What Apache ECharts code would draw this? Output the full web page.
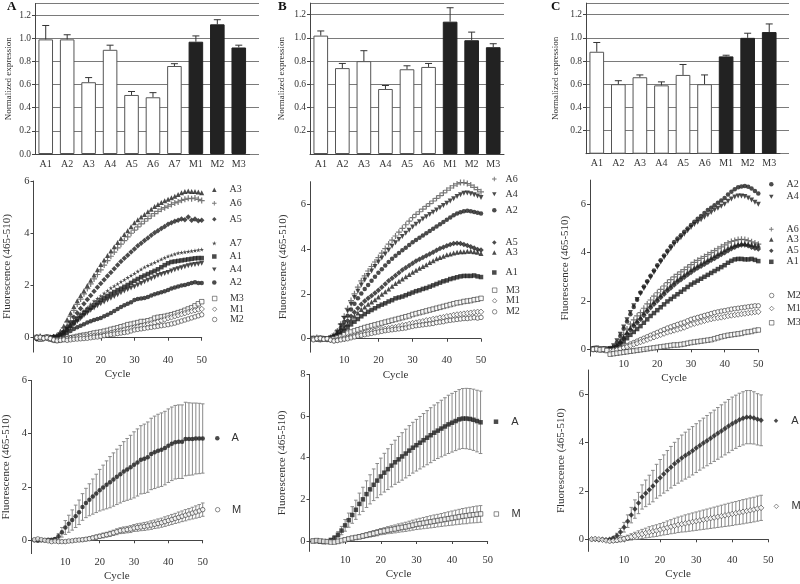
<!DOCTYPE html>
<html><head><meta charset="utf-8">
<script src="https://cdn.jsdelivr.net/npm/echarts@6/dist/echarts.min.js"></script>
<style>html,body{margin:0;padding:0;background:#fff}#c{width:800px;height:584px}</style>
</head><body><div id="c"></div>
<script>
// ---------- Top row: normalized expression bars ----------
const barCatsA = ['A1','A2','A3','A4','A5','A6','A7','M1','M2','M3'];
const barValsA = [0.99,0.99,0.62,0.90,0.51,0.49,0.76,0.97,1.12,0.92];
const barErrA  = [0.12,0.04,0.04,0.04,0.03,0.04,0.02,0.05,0.04,0.02];
const barCatsB = ['A1','A2','A3','A4','A5','A6','M1','M2','M3'];
const barValsB = [1.02,0.74,0.80,0.56,0.73,0.75,1.14,0.98,0.92];
const barErrB  = [0.04,0.04,0.09,0.03,0.03,0.03,0.12,0.07,0.03];
const barCatsC = ['A1','A2','A3','A4','A5','A6','M1','M2','M3'];
const barValsC = [0.88,0.60,0.66,0.59,0.68,0.60,0.84,1.00,1.05];
const barErrC  = [0.08,0.03,0.02,0.03,0.09,0.08,0.01,0.04,0.07];
const barTicksA = [0,0.2,0.4,0.6,0.8,1.0,1.2];
const barTicksBC = [0.2,0.4,0.6,0.8,1.0,1.2];

// ---------- cycles ----------
const cycles = [1,2,3,4,5,6,7,8,9,10,11,12,13,14,15,16,17,18,19,20,21,22,23,24,25,26,27,28,29,30,31,32,33,34,35,36,37,38,39,40,41,42,43,44,45,46,47,48,49,50];
const cyclesShort = [1,2,3,4,5,6,7,8,9,10,11,12,13,14,15,16,17,18,19,20,21,22,23,24,25,26,27,28,29,30,31,32,33,34,35,36,37,38,39,40,41,42,43,44,45,46,47,48];
const cycleTicks = [10,20,30,40,50];
const fluoTicks6 = [0,2,4,6];
const fluoTicks8 = [0,2,4,6,8];

// ---------- Middle row, panel A ----------
const midA_A3 = [0.05,-0.05,0.02,0.00,0.03,-0.02,0.10,0.25,0.45,0.70,0.95,1.20,1.42,1.62,1.80,2.00,2.20,2.40,2.60,2.80,2.98,3.15,3.32,3.48,3.65,3.80,3.95,4.10,4.25,4.40,4.52,4.62,4.72,4.82,4.92,5.02,5.10,5.18,5.24,5.30,5.36,5.42,5.48,5.55,5.60,5.62,5.60,5.60,5.58,5.55];
const midA_A6 = [0.00,0.05,-0.03,0.02,0.00,0.03,0.08,0.20,0.38,0.60,0.82,1.05,1.28,1.48,1.68,1.88,2.06,2.25,2.42,2.60,2.78,2.95,3.12,3.28,3.44,3.58,3.72,3.86,4.00,4.12,4.24,4.36,4.46,4.56,4.66,4.75,4.84,4.92,4.98,5.04,5.10,5.16,5.20,5.26,5.30,5.34,5.32,5.35,5.30,5.25];
const midA_A5 = [-0.05,0.03,0.00,0.02,-0.03,0.05,0.05,0.12,0.25,0.42,0.60,0.78,0.95,1.12,1.30,1.46,1.62,1.78,1.93,2.08,2.22,2.36,2.50,2.64,2.78,2.92,3.04,3.16,3.28,3.40,3.52,3.62,3.72,3.82,3.92,4.02,4.10,4.18,4.26,4.34,4.40,4.46,4.50,4.55,4.52,4.62,4.50,4.55,4.48,4.50];
const midA_A7 = [0.00,0.02,-0.02,0.03,0.00,0.02,0.04,0.12,0.24,0.38,0.52,0.66,0.80,0.92,1.04,1.16,1.28,1.40,1.50,1.60,1.70,1.80,1.90,1.98,2.06,2.14,2.22,2.30,2.38,2.46,2.54,2.62,2.70,2.76,2.82,2.88,2.94,3.00,3.06,3.12,3.16,3.20,3.24,3.26,3.28,3.30,3.32,3.34,3.36,3.38];
const midA_A1 = [0.00,-0.02,0.02,0.00,-0.03,0.02,0.03,0.10,0.20,0.32,0.45,0.58,0.70,0.82,0.94,1.05,1.15,1.25,1.35,1.45,1.53,1.60,1.68,1.75,1.82,1.88,1.95,2.02,2.10,2.18,2.25,2.32,2.38,2.44,2.50,2.56,2.62,2.70,2.78,2.85,2.90,2.92,2.94,2.96,2.98,3.00,3.02,3.04,3.05,3.05];
const midA_A4 = [0.02,0.00,-0.03,0.02,0.00,-0.02,0.02,0.08,0.16,0.26,0.38,0.50,0.62,0.74,0.85,0.95,1.05,1.14,1.22,1.30,1.37,1.44,1.51,1.58,1.65,1.72,1.79,1.85,1.90,1.95,2.02,2.08,2.14,2.20,2.26,2.32,2.38,2.42,2.46,2.50,2.55,2.60,2.64,2.68,2.72,2.76,2.78,2.80,2.82,2.85];
const midA_A2 = [-0.05,0.00,0.02,-0.02,0.00,0.02,0.00,0.04,0.10,0.18,0.26,0.33,0.40,0.46,0.52,0.58,0.63,0.68,0.72,0.76,0.82,0.88,0.95,1.02,1.10,1.18,1.24,1.30,1.36,1.44,1.48,1.50,1.52,1.56,1.62,1.66,1.70,1.74,1.78,1.83,1.88,1.92,1.96,2.00,2.02,2.06,2.10,2.12,2.10,2.10];
const midA_M3 = [0.00,-0.05,0.00,0.02,-0.05,-0.08,-0.10,-0.08,-0.05,-0.03,0.00,0.02,0.05,0.08,0.10,0.12,0.15,0.18,0.20,0.22,0.25,0.28,0.32,0.35,0.38,0.42,0.45,0.50,0.52,0.55,0.58,0.62,0.62,0.65,0.68,0.75,0.78,0.80,0.82,0.85,0.88,0.92,0.96,1.00,1.05,1.10,1.15,1.22,1.30,1.38];
const midA_M1 = [0.02,0.00,-0.03,0.00,-0.05,-0.10,-0.08,-0.06,-0.05,-0.04,-0.02,0.00,0.02,0.04,0.05,0.06,0.07,0.08,0.09,0.10,0.13,0.16,0.19,0.22,0.25,0.28,0.31,0.34,0.37,0.40,0.43,0.46,0.49,0.52,0.55,0.58,0.62,0.66,0.70,0.75,0.78,0.82,0.86,0.90,0.94,0.98,1.02,1.05,1.08,1.10];
const midA_M2 = [0.00,0.02,-0.02,0.00,-0.03,-0.08,-0.12,-0.10,-0.08,-0.10,-0.08,-0.06,-0.05,-0.04,-0.03,-0.02,0.00,0.02,0.03,0.05,0.08,0.10,0.12,0.14,0.16,0.18,0.20,0.22,0.26,0.30,0.32,0.34,0.36,0.38,0.40,0.42,0.44,0.46,0.48,0.50,0.53,0.56,0.60,0.64,0.68,0.72,0.76,0.80,0.84,0.88];

// ---------- Middle row, panel B ----------
const midB_A6 = [0.00,0.05,-0.03,0.00,-0.02,0.05,0.15,0.35,0.65,1.00,1.35,1.70,2.00,2.30,2.58,2.80,3.02,3.22,3.42,3.62,3.82,4.02,4.22,4.40,4.58,4.75,4.92,5.08,5.24,5.40,5.54,5.66,5.78,5.90,6.02,6.14,6.26,6.38,6.50,6.62,6.72,6.82,6.90,6.96,6.96,6.92,6.85,6.75,6.65,6.55];
const midB_A4 = [0.02,0.00,0.03,-0.02,0.00,0.04,0.12,0.30,0.58,0.90,1.22,1.54,1.84,2.12,2.40,2.62,2.82,3.02,3.22,3.42,3.60,3.78,3.96,4.12,4.28,4.42,4.56,4.70,4.84,4.98,5.10,5.22,5.34,5.44,5.54,5.64,5.74,5.84,5.94,6.04,6.14,6.24,6.34,6.42,6.48,6.50,6.46,6.42,6.36,6.30];
const midB_A2 = [0.00,0.03,-0.02,0.00,0.02,0.03,0.10,0.25,0.48,0.75,1.02,1.30,1.56,1.80,2.02,2.22,2.40,2.58,2.76,2.94,3.10,3.26,3.42,3.56,3.70,3.82,3.94,4.06,4.18,4.30,4.40,4.50,4.60,4.70,4.80,4.90,5.00,5.10,5.20,5.30,5.40,5.50,5.58,5.64,5.68,5.70,5.68,5.65,5.62,5.58];
const midB_A5 = [0.00,-0.02,0.02,0.00,-0.02,0.02,0.08,0.20,0.38,0.58,0.80,1.00,1.18,1.36,1.54,1.68,1.80,1.92,2.04,2.16,2.30,2.44,2.58,2.70,2.82,2.94,3.06,3.16,3.26,3.36,3.46,3.54,3.62,3.70,3.78,3.86,3.94,4.02,4.08,4.14,4.20,4.24,4.26,4.24,4.20,4.16,4.10,4.04,3.98,3.95];
const midB_A3 = [0.02,0.00,-0.02,0.02,0.00,0.00,0.06,0.16,0.30,0.48,0.66,0.84,1.00,1.15,1.30,1.42,1.54,1.64,1.74,1.86,1.98,2.10,2.22,2.34,2.46,2.56,2.66,2.76,2.86,2.96,3.05,3.14,3.22,3.30,3.40,3.48,3.56,3.62,3.68,3.74,3.78,3.82,3.85,3.88,3.88,3.90,3.90,3.88,3.85,3.80];
const midB_A1 = [0.00,0.02,-0.02,0.00,0.02,0.00,0.05,0.12,0.22,0.35,0.50,0.64,0.76,0.88,1.00,1.10,1.20,1.28,1.36,1.45,1.52,1.58,1.66,1.72,1.80,1.84,1.88,1.94,2.00,2.06,2.12,2.16,2.22,2.26,2.32,2.38,2.44,2.50,2.56,2.60,2.66,2.70,2.74,2.78,2.80,2.80,2.80,2.82,2.78,2.75];
const midB_M3 = [0.00,0.00,-0.03,0.00,-0.02,-0.02,0.00,0.05,0.10,0.18,0.25,0.30,0.35,0.40,0.45,0.50,0.54,0.58,0.62,0.66,0.70,0.74,0.78,0.82,0.86,0.90,0.94,0.98,1.02,1.08,1.12,1.16,1.20,1.24,1.28,1.32,1.36,1.40,1.44,1.48,1.52,1.56,1.60,1.62,1.66,1.68,1.70,1.74,1.76,1.80];
const midB_M1 = [0.00,0.02,0.00,-0.02,0.00,-0.05,-0.08,-0.05,-0.02,0.02,0.06,0.10,0.14,0.18,0.22,0.26,0.30,0.33,0.36,0.40,0.42,0.44,0.47,0.50,0.52,0.56,0.60,0.62,0.66,0.70,0.72,0.76,0.78,0.82,0.84,0.88,0.90,0.94,0.96,1.00,1.02,1.06,1.08,1.10,1.12,1.14,1.16,1.18,1.20,1.20];
const midB_M2 = [-0.05,0.00,0.02,-0.02,0.00,-0.06,-0.10,-0.08,-0.05,-0.02,0.00,0.04,0.08,0.12,0.15,0.18,0.21,0.24,0.27,0.30,0.33,0.36,0.38,0.40,0.42,0.44,0.46,0.48,0.52,0.55,0.58,0.60,0.62,0.64,0.66,0.68,0.72,0.74,0.76,0.80,0.82,0.84,0.86,0.88,0.90,0.90,0.92,0.94,0.92,0.95];

// ---------- Middle row, panel C ----------
const midC_A2 = [0.05,0.00,0.03,0.00,-0.02,0.00,0.10,0.28,0.55,0.85,1.15,1.45,1.75,2.05,2.35,2.60,2.82,3.04,3.26,3.48,3.68,3.88,4.08,4.26,4.44,4.58,4.72,4.86,5.00,5.14,5.28,5.40,5.52,5.64,5.76,5.86,5.96,6.06,6.16,6.26,6.40,6.52,6.62,6.70,6.74,6.76,6.72,6.65,6.55,6.45];
const midC_A4 = [0.00,0.05,-0.02,0.02,0.00,0.03,0.15,0.35,0.62,0.92,1.22,1.52,1.80,2.06,2.30,2.52,2.74,2.96,3.18,3.40,3.60,3.80,3.98,4.16,4.34,4.48,4.62,4.76,4.90,5.04,5.16,5.26,5.36,5.46,5.56,5.66,5.76,5.84,5.92,6.00,6.12,6.22,6.30,6.34,6.34,6.32,6.26,6.18,6.08,6.00];
const midC_A6 = [0.00,0.02,0.00,-0.02,0.00,0.02,0.08,0.22,0.40,0.62,0.84,1.04,1.22,1.38,1.52,1.70,1.88,2.04,2.20,2.34,2.48,2.62,2.76,2.88,3.00,3.10,3.20,3.30,3.40,3.50,3.60,3.68,3.76,3.84,3.92,4.00,4.08,4.16,4.24,4.32,4.40,4.46,4.50,4.54,4.55,4.54,4.50,4.45,4.40,4.35];
const midC_A3 = [0.03,0.00,0.02,-0.02,0.00,0.00,0.06,0.18,0.34,0.52,0.72,0.90,1.06,1.20,1.34,1.52,1.68,1.84,1.98,2.12,2.26,2.40,2.54,2.66,2.78,2.90,3.00,3.10,3.20,3.30,3.40,3.48,3.56,3.64,3.72,3.80,3.88,3.96,4.04,4.12,4.20,4.26,4.32,4.36,4.38,4.38,4.36,4.34,4.32,4.30];
const midC_A5 = [0.00,0.03,0.00,0.02,-0.02,0.02,0.05,0.14,0.28,0.45,0.62,0.80,0.96,1.10,1.24,1.40,1.56,1.72,1.86,2.00,2.14,2.28,2.42,2.54,2.66,2.78,2.88,2.98,3.08,3.18,3.28,3.36,3.44,3.52,3.60,3.68,3.76,3.84,3.92,4.00,4.08,4.16,4.22,4.28,4.32,4.32,4.28,4.22,4.18,4.15];
const midC_A1 = [0.02,0.00,-0.02,0.00,0.02,0.00,0.04,0.10,0.20,0.32,0.46,0.60,0.72,0.84,0.96,1.10,1.24,1.38,1.50,1.62,1.74,1.86,1.98,2.08,2.18,2.28,2.38,2.48,2.58,2.68,2.76,2.84,2.92,3.00,3.08,3.16,3.24,3.32,3.40,3.48,3.58,3.66,3.72,3.74,3.74,3.72,3.72,3.74,3.70,3.65];
const midC_M2 = [0.00,0.02,-0.02,0.00,-0.03,-0.05,-0.03,0.00,0.04,0.10,0.16,0.22,0.28,0.34,0.40,0.46,0.52,0.58,0.64,0.70,0.76,0.82,0.88,0.93,0.98,1.03,1.08,1.12,1.18,1.24,1.28,1.32,1.36,1.40,1.44,1.48,1.52,1.55,1.58,1.60,1.63,1.66,1.68,1.70,1.72,1.74,1.76,1.78,1.80,1.80];
const midC_M1 = [0.00,-0.02,0.02,0.00,-0.03,-0.06,-0.05,-0.02,0.02,0.06,0.10,0.15,0.20,0.25,0.30,0.35,0.40,0.45,0.50,0.55,0.60,0.65,0.70,0.74,0.78,0.82,0.86,0.90,0.96,1.02,1.06,1.10,1.14,1.18,1.22,1.25,1.28,1.30,1.32,1.35,1.38,1.40,1.42,1.44,1.46,1.48,1.50,1.52,1.54,1.55];
const midC_M3 = [0.00,0.02,-0.02,0.00,-0.05,-0.20,-0.18,-0.16,-0.14,-0.12,-0.10,-0.08,-0.06,-0.04,-0.02,0.00,0.02,0.04,0.06,0.08,0.10,0.12,0.14,0.16,0.18,0.18,0.20,0.22,0.25,0.28,0.30,0.32,0.34,0.36,0.38,0.40,0.44,0.48,0.52,0.55,0.58,0.60,0.62,0.64,0.66,0.70,0.72,0.74,0.78,0.80];

// ---------- Bottom row: group means with SD ----------
const botA_A    = [0.00,-0.02,0.00,0.00,0.02,0.02,0.05,0.15,0.30,0.48,0.62,0.76,0.90,1.05,1.25,1.40,1.52,1.64,1.76,1.88,1.98,2.08,2.18,2.28,2.38,2.48,2.58,2.66,2.74,2.83,2.92,3.02,3.06,3.12,3.24,3.30,3.36,3.40,3.46,3.55,3.62,3.68,3.70,3.70,3.80,3.80,3.80,3.82,3.82,3.82];
const botA_Aerr = [0.02,0.02,0.02,0.02,0.02,0.03,0.05,0.10,0.18,0.26,0.32,0.38,0.42,0.46,0.50,0.55,0.60,0.66,0.72,0.78,0.84,0.90,0.96,1.00,1.04,1.08,1.12,1.16,1.20,1.24,1.26,1.28,1.30,1.32,1.34,1.36,1.37,1.38,1.38,1.38,1.38,1.38,1.38,1.38,1.38,1.36,1.35,1.33,1.32,1.30];
const botA_M    = [0.02,0.05,0.02,0.00,-0.02,-0.05,-0.03,-0.05,-0.05,-0.05,-0.03,-0.02,0.00,0.01,0.02,0.04,0.06,0.09,0.12,0.15,0.18,0.21,0.24,0.28,0.32,0.36,0.38,0.40,0.42,0.46,0.48,0.50,0.52,0.54,0.57,0.60,0.63,0.66,0.70,0.74,0.78,0.82,0.86,0.90,0.94,0.98,1.02,1.06,1.10,1.15];
const botA_Merr = [0.01,0.01,0.01,0.01,0.02,0.02,0.02,0.03,0.03,0.03,0.04,0.04,0.05,0.05,0.06,0.06,0.07,0.07,0.08,0.08,0.09,0.09,0.10,0.10,0.11,0.11,0.12,0.12,0.13,0.13,0.14,0.14,0.15,0.15,0.16,0.16,0.17,0.17,0.18,0.18,0.19,0.19,0.20,0.20,0.21,0.21,0.22,0.23,0.24,0.25];
const botB_A    = [0.00,0.00,-0.03,-0.05,-0.03,0.05,0.15,0.30,0.50,0.75,1.00,1.25,1.50,1.78,2.00,2.25,2.48,2.70,2.90,3.10,3.28,3.45,3.62,3.78,3.92,4.06,4.20,4.34,4.48,4.60,4.72,4.84,4.96,5.08,5.20,5.30,5.40,5.50,5.60,5.68,5.76,5.84,5.88,5.88,5.86,5.82,5.76,5.70];
const botB_Aerr = [0.02,0.02,0.02,0.02,0.03,0.05,0.10,0.15,0.20,0.28,0.34,0.40,0.46,0.52,0.58,0.64,0.70,0.76,0.82,0.88,0.93,0.98,1.02,1.06,1.10,1.14,1.17,1.20,1.22,1.24,1.26,1.28,1.30,1.32,1.33,1.34,1.36,1.38,1.40,1.41,1.42,1.43,1.44,1.45,1.46,1.47,1.48,1.50];
const botB_M    = [0.00,0.02,0.00,-0.02,-0.03,-0.05,-0.05,-0.02,0.02,0.06,0.10,0.14,0.17,0.20,0.24,0.28,0.32,0.36,0.40,0.45,0.48,0.52,0.55,0.58,0.62,0.65,0.68,0.72,0.76,0.80,0.83,0.86,0.89,0.92,0.95,0.98,1.01,1.04,1.07,1.10,1.13,1.16,1.19,1.21,1.24,1.26,1.28,1.30];
const botB_Merr = [0.01,0.01,0.01,0.01,0.02,0.02,0.03,0.04,0.05,0.06,0.07,0.08,0.09,0.10,0.11,0.12,0.13,0.14,0.15,0.15,0.16,0.17,0.18,0.19,0.20,0.21,0.22,0.23,0.24,0.25,0.26,0.27,0.28,0.29,0.30,0.30,0.31,0.32,0.33,0.34,0.35,0.36,0.37,0.38,0.38,0.39,0.40,0.40];
const botC_A    = [0.00,0.00,-0.02,0.00,-0.02,0.00,0.05,0.15,0.30,0.50,0.75,1.00,1.25,1.50,1.75,1.90,2.05,2.20,2.40,2.55,2.70,2.84,2.98,3.12,3.24,3.36,3.46,3.56,3.66,3.77,3.88,3.98,4.08,4.18,4.28,4.38,4.48,4.58,4.68,4.78,4.86,4.94,5.00,5.05,5.05,5.02,4.96,4.92];
const botC_Aerr = [0.02,0.02,0.02,0.02,0.02,0.03,0.05,0.10,0.15,0.20,0.26,0.32,0.38,0.44,0.50,0.55,0.60,0.65,0.70,0.75,0.79,0.83,0.86,0.89,0.92,0.95,0.97,0.99,1.00,1.01,1.02,1.03,1.04,1.05,1.06,1.07,1.08,1.09,1.10,1.10,1.10,1.10,1.10,1.10,1.10,1.08,1.06,1.05];
const botC_M    = [0.00,0.02,0.00,-0.02,-0.05,-0.08,-0.06,-0.04,-0.01,0.02,0.06,0.10,0.14,0.18,0.22,0.26,0.30,0.33,0.36,0.40,0.44,0.48,0.52,0.56,0.60,0.63,0.66,0.69,0.72,0.75,0.78,0.81,0.84,0.87,0.90,0.93,0.96,0.99,1.02,1.05,1.08,1.11,1.14,1.17,1.20,1.23,1.27,1.30];
const botC_Merr = [0.01,0.01,0.01,0.02,0.03,0.05,0.07,0.08,0.09,0.10,0.11,0.13,0.15,0.17,0.19,0.20,0.22,0.23,0.24,0.25,0.26,0.28,0.29,0.31,0.32,0.33,0.35,0.36,0.37,0.38,0.39,0.40,0.41,0.42,0.43,0.44,0.45,0.46,0.47,0.48,0.48,0.49,0.50,0.50,0.51,0.51,0.52,0.52];

// ================= building the option =================
const SERIF = 'Liberation Serif', SANS = 'Liberation Sans';
const AX = '#444', TXT = '#333', DARK = '#1e1e1e';
const PLUS = 'path://M4,0H6V4H10V6H6V10H4V6H0V4H4Z';
const STAR = 'path://M5,0L6.2,3.8L10,3.8L6.9,6.1L8.1,10L5,7.6L1.9,10L3.1,6.1L0,3.8L3.8,3.8Z';
const TRI_DOWN = 'path://M0,0L10,0L5,9Z';
const STY = {
  A1:{symbol:'rect', size:4.5, fill:DARK},
  A2:{symbol:'circle', size:4.5, fill:DARK},
  A3:{symbol:'triangle', size:5, fill:DARK},
  A4:{symbol:TRI_DOWN, size:5, fill:DARK},
  A5:{symbol:'diamond', size:5.5, fill:DARK},
  A6:{symbol:PLUS, size:6, fill:'#555'},
  A7:{symbol:STAR, size:4.5, fill:DARK},
  M1:{symbol:'diamond', size:5.5, open:true},
  M2:{symbol:'circle', size:4.5, open:true},
  M3:{symbol:'rect', size:4.5, open:true}
};
const grids = [], xAxes = [], yAxes = [], series = [], legends = [], graphics = [];
const zip = (xs, ys) => ys.map((y, i) => [xs[i], y]);

function addGrid(g){ grids.push(g); return grids.length - 1; }

function barPanel(left, top, width, height, gridW, cats, vals, errs, ticks, nameGap){
  const gi = addGrid({left, top, width, height});
  xAxes.push({gridIndex:gi, type:'category', data:cats, boundaryGap:true,
    axisLine:{lineStyle:{color:AX}}, axisTick:{alignWithLabel:true, length:3, lineStyle:{color:AX}},
    axisLabel:{fontFamily:SERIF, fontSize:10, color:TXT, margin:5}, splitLine:{show:false}});
  yAxes.push({gridIndex:gi, type:'value', min:0, max:1.3,
    name:'Normalized expression', nameLocation:'middle', nameGap, nameTextStyle:{fontFamily:SERIF, fontSize:9, color:TXT},
    axisLine:{show:true, lineStyle:{color:AX}}, axisTick:{show:true, length:3, customValues:ticks, lineStyle:{color:AX}},
    axisLabel:{fontFamily:SERIF, fontSize:9.5, color:TXT, margin:4, customValues:ticks, formatter:v=>v.toFixed(1)},
    splitLine:{show:false}});
  const gl = addGrid({left, top, width:gridW, height});
  xAxes.push({gridIndex:gl, type:'value', min:0, max:1, show:false});
  yAxes.push({gridIndex:gl, type:'value', min:0, max:1.3, interval:0.2,
    axisLine:{show:false}, axisTick:{show:false}, axisLabel:{show:false},
    splitLine:{show:true, lineStyle:{color:'#7a7a7a', width:1}}});
  series.push({type:'bar', xAxisIndex:gi, yAxisIndex:gi, barWidth:'68%', z:2,
    data: vals.map((v, i) => ({value:v, itemStyle:{color: cats[i][0]==='M' ? '#222' : '#fff',
      borderColor: cats[i][0]==='M' ? '#222' : '#555', borderWidth:1}})),
    silent:true});
  series.push({type:'custom', xAxisIndex:gi, yAxisIndex:gi, z:3, silent:true,
    data: vals.map((v, i) => [i, v, errs[i]]),
    renderItem:(p, api) => {
      const x = api.value(0), v = api.value(1), e = api.value(2);
      const a = api.coord([x, v]), b = api.coord([x, v + e]);
      return {type:'group', children:[
        {type:'line', shape:{x1:a[0], y1:a[1], x2:b[0], y2:b[1]}, style:{stroke:'#333', lineWidth:1}},
        {type:'line', shape:{x1:b[0]-3.5, y1:b[1], x2:b[0]+3.5, y2:b[1]}, style:{stroke:'#333', lineWidth:1}}]};
    }});
}

function curveAxes(gi, xmax, ymin, ymax, yticks, yNameGap){
  xAxes.push({gridIndex:gi, type:'value', min:0, max:xmax,
    name:'Cycle', nameLocation:'middle', nameGap:17, nameTextStyle:{fontFamily:SERIF, fontSize:11, color:TXT},
    axisLine:{lineStyle:{color:AX}}, axisTick:{length:3, customValues:cycleTicks, lineStyle:{color:AX}},
    axisLabel:{fontFamily:SERIF, fontSize:10.5, color:TXT, margin:3, customValues:cycleTicks}, splitLine:{show:false}});
  yAxes.push({gridIndex:gi, type:'value', min:ymin, max:ymax,
    name:'Fluorescence (465-510)', nameLocation:'middle', nameGap:yNameGap, nameTextStyle:{fontFamily:SERIF, fontSize:11, color:TXT},
    axisLine:{show:true, lineStyle:{color:AX}}, axisTick:{show:true, length:3, customValues:yticks, lineStyle:{color:AX}},
    axisLabel:{fontFamily:SERIF, fontSize:10.5, color:TXT, margin:4, customValues:yticks}, splitLine:{show:false}});
}

function scatterSeries(gi, id, key, ys, xs){
  const s = STY[key];
  series.push({type:'scatter', name:id, xAxisIndex:gi, yAxisIndex:gi, data:zip(xs, ys),
    symbol:s.symbol, symbolSize:s.size, z:4, silent:true,
    itemStyle: s.open ? {color:'#fff', borderColor:'#333', borderWidth:0.8} : {color:s.fill}});
}

function addLegend(id, mx, my, pad, font, size){
  legends.push({data:[id], left:mx - 2.25, top:my - 6.5, itemWidth:4.5, itemHeight:4.5, padding:0,
    selectedMode:false,
    itemStyle:{borderWidth:0.7},
    formatter: n => n.split('-')[1],
    textStyle:{fontFamily:font, fontSize:size, color:TXT, padding:[0,0,0,pad]}});
}

function curvePanel(prefix, box, xmax, ymin, ymax, yticks, gap, entries, legendX, pad){
  const gi = addGrid(box);
  curveAxes(gi, xmax, ymin, ymax, yticks, gap);
  entries.forEach(([key, ys, ly]) => {
    const id = prefix + '-' + key;
    scatterSeries(gi, id, key, ys, cycles);
    addLegend(id, legendX, ly, pad, SERIF, 10);
  });
}

function meanPanel(prefix, box, xmax, ymin, ymax, yticks, gap, groups, legendX, pad){
  const gi = addGrid(box);
  curveAxes(gi, xmax, ymin, ymax, yticks, gap);
  groups.forEach(([label, ys, errs, sym, open, ly]) => {
    const xs = ys.length === 50 ? cycles : cyclesShort;
    series.push({type:'custom', xAxisIndex:gi, yAxisIndex:gi, z:3, silent:true,
      data: ys.map((v, i) => [xs[i], v, errs[i]]),
      renderItem:(p, api) => {
        const x = api.value(0), v = api.value(1), e = api.value(2);
        const a = api.coord([x, v - e]), b = api.coord([x, v + e]);
        return {type:'group', children:[
          {type:'line', shape:{x1:a[0], y1:a[1], x2:b[0], y2:b[1]}, style:{stroke:'#8a8a8a', lineWidth:1}},
          {type:'line', shape:{x1:a[0]-1.8, y1:a[1], x2:a[0]+1.8, y2:a[1]}, style:{stroke:'#8a8a8a', lineWidth:1}},
          {type:'line', shape:{x1:b[0]-1.8, y1:b[1], x2:b[0]+1.8, y2:b[1]}, style:{stroke:'#8a8a8a', lineWidth:1}}]};
      }});
    const id = prefix + '-' + label;
    series.push({type:'scatter', name:id, xAxisIndex:gi, yAxisIndex:gi, data:zip(xs, ys),
      symbol:sym, symbolSize: sym==='diamond' ? 5.5 : 4.5, z:4, silent:true,
      itemStyle: open ? {color:'#fff', borderColor:'#333', borderWidth:0.8} : {color:DARK}});
    addLegend(id, legendX, ly, pad, SANS, 11);
  });
}

// Top row
barPanel(35, 3.5, 214.5, 150.5, 224, barCatsA, barValsA, barErrA, barTicksA, 22);
barPanel(310, 3.1, 194, 150.9, 194, barCatsB, barValsB, barErrB, barTicksBC, 23.5);
barPanel(586, 3.1, 194, 150.6, 203, barCatsC, barValsC, barErrC, barTicksBC, 26);

// Middle row
curvePanel('mA', {left:33.5, top:181, width:168.2, height:171.1}, 50, -0.55, 6, fluoTicks6, 20.5, [
  ['A3', midA_A3, 191.3], ['A6', midA_A6, 204.7], ['A5', midA_A5, 220.7], ['A7', midA_A7, 244.7],
  ['A1', midA_A1, 258], ['A4', midA_A4, 271], ['A2', midA_A2, 284],
  ['M3', midA_M3, 300], ['M1', midA_M1, 310.7], ['M2', midA_M2, 321]], 214.3, 8);
curvePanel('mB', {left:310, top:181.7, width:171, height:170.5}, 50, -0.6, 7, fluoTicks6, 21, [
  ['A6', midB_A6, 180.5], ['A4', midB_A4, 195.7], ['A2', midB_A2, 211.7], ['A5', midB_A5, 244],
  ['A3', midB_A3, 254], ['A1', midB_A1, 274],
  ['M3', midB_M3, 291.7], ['M1', midB_M1, 302.3], ['M2', midB_M2, 313.3]], 494.3, 4);
curvePanel('mC', {left:590, top:180.1, width:168.3, height:176}, 50, -0.28, 7, fluoTicks6, 19.5, [
  ['A2', midC_A2, 185.7], ['A4', midC_A4, 198.3], ['A6', midC_A6, 230.7], ['A3', midC_A3, 241],
  ['A5', midC_A5, 252.3], ['A1', midC_A1, 263.3],
  ['M2', midC_M2, 297], ['M1', midC_M1, 310], ['M3', midC_M3, 324.3]], 771.3, 8);

// Bottom row
meanPanel('bA', {left:29.7, top:380.4, width:173, height:173.2}, 50, -0.5, 6, fluoTicks6, 19, [
  ['A', botA_A, botA_Aerr, 'circle', false, 439.3], ['M', botA_M, botA_Merr, 'circle', true, 510.7]], 217.3, 7);
meanPanel('bB', {left:309.5, top:374.4, width:178.2, height:177}, 50, -0.5, 8, fluoTicks8, 21.5, [
  ['A', botB_A, botB_Aerr, 'rect', false, 422.7], ['M', botB_M, botB_Merr, 'rect', true, 515]], 496, 8);
meanPanel('bC', {left:588, top:370, width:180.3, height:181.4}, 50, -0.5, 7, fluoTicks6, 21, [
  ['A', botC_A, botC_Aerr, 'diamond', false, 421.7], ['M', botC_M, botC_Merr, 'diamond', true, 507.3]], 776, 8);

// Panel letters
[['A', 7], ['B', 278], ['C', 551]].forEach(([t, x]) => graphics.push({type:'text', left:x, top:0,
  style:{text:t, font:'bold 13px "Liberation Serif"', fill:'#111'}}));

const chart = echarts.init(document.getElementById('c'), null, {renderer:'canvas'});
chart.setOption({animation:false, backgroundColor:'#fff', grid:grids, xAxis:xAxes, yAxis:yAxes,
  series, legend:legends, graphic:graphics, tooltip:{show:false}});
</script></body></html>
